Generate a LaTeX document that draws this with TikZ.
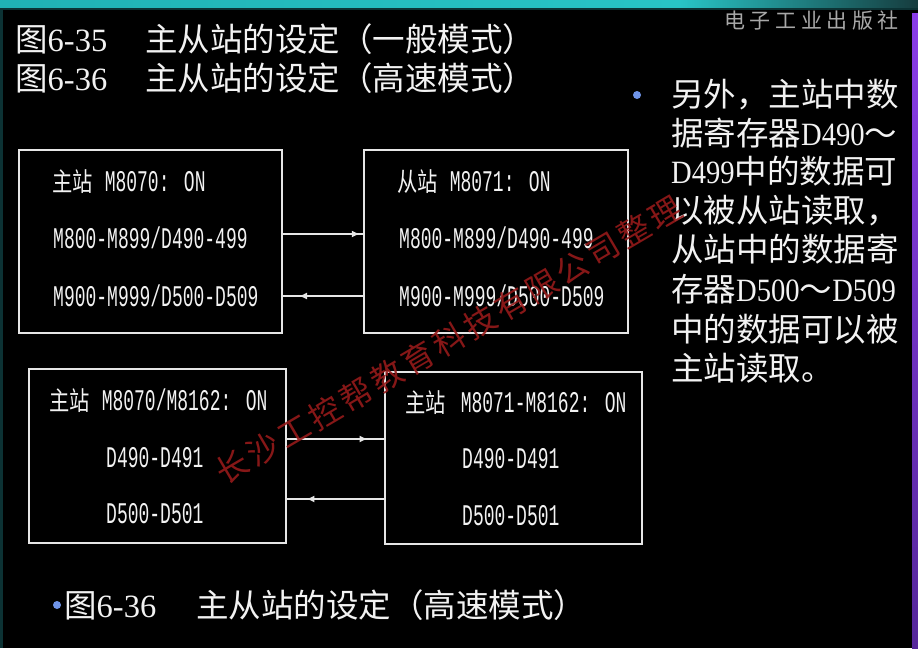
\documentclass[tikz,border=0pt]{standalone}
\usepackage{fontspec}
\setmainfont{Noto Sans CJK SC}
\newfontfamily\latin{Liberation Serif}
\newfontfamily\latinn[FakeStretch=0.88]{Liberation Serif}
\newfontfamily\plcmono[FakeStretch=0.6]{Liberation Mono}
\newfontfamily\plczh[FakeStretch=0.78]{Noto Sans CJK SC}
\newfontfamily\pubfont[LetterSpace=22]{Noto Sans CJK SC}
\newfontfamily\markfont[LetterSpace=12]{Noto Sans CJK SC}
\usetikzlibrary{arrows.meta,decorations.markings}

\definecolor{frame}{HTML}{E6E6E6}
\definecolor{ink}{HTML}{F2F2F2}
\definecolor{dot}{HTML}{6F94E8}
\definecolor{barA}{HTML}{28C4C6}
\definecolor{barB}{HTML}{20B2B5}
\definecolor{barC}{HTML}{163C3E}
\definecolor{edge}{HTML}{0C3234}
\definecolor{violetA}{HTML}{8A3DE8}
\definecolor{violetB}{HTML}{55279A}
\definecolor{stamp}{HTML}{A8A8A8}
\definecolor{seal}{HTML}{951A1A}

\newcommand\fs[1]{\fontsize{#1}{#1}\selectfont}

\tikzset{
  station/.style={draw=frame, line width=2pt, inner sep=0pt},
  link/.style={draw=frame, line width=2pt},
  headat/.style={postaction={decorate},
    decoration={markings, mark=at position #1 with {\arrow[frame]{Latex[length=8pt,width=7pt]}}}},
  plc/.style={anchor=base west, inner sep=0pt, text=ink, font=\plcmono\fs{30}},
  para/.style={anchor=base west, inner sep=0pt, text=ink, font=\fs{32.5}},
}

\begin{document}
\begin{tikzpicture}[x=1pt,y=-1pt]
\useasboundingbox (0,0) rectangle (918,648);
\fill[black] (0,0) rectangle (918,648);

% slide frame: teal band on top, violet band on the right
\shade[left color=barB, right color=barA] (0,0) rectangle (680,8);
\shade[left color=barA, right color=barC] (680,0) rectangle (918,8);
\fill[edge] (0,8) rectangle (918,9.5);
\fill[edge] (0,9.5) rectangle (3,648);
\shade[top color=violetA, bottom color=violetB] (912,13) rectangle (918,648);

% publisher mark
\node[anchor=west, inner sep=0pt, text=stamp, font=\pubfont\fs{21}] (pub) at (724,21) {电子工业出版社};

% titles
\node[para] (t1a) at (15,51) {图{\latin 6-35}};
\node[para] (t1b) at (145,51) {主从站的设定（一般模式）};
\node[para] (t2a) at (15,90) {图{\latin 6-36}};
\node[para] (t2b) at (145,90) {主从站的设定（高速模式）};

% general mode stations
\node[station, minimum width=263pt, minimum height=183pt] (m1) at (150.5,241.5) {};
\node[station, minimum width=264pt, minimum height=183pt] (s1) at (496,241.5) {};
\node[plc] (m1a) at (52,191) {{\plczh\fs{26}主站}\hspace{12pt}M8070: ON};
\node[plc] (m1b) at (53,248) {M800-M899/D490-499};
\node[plc] (m1c) at (53,306) {M900-M999/D500-D509};
\node[plc] (s1a) at (397,191) {{\plczh\fs{26}从站}\hspace{12pt}M8071: ON};
\node[plc] (s1b) at (399,248) {M800-M899/D490-499};
\node[plc] (s1c) at (399,306) {M900-M999/D500-D509};

\coordinate (g1) at ([yshift=7.5pt]m1.east);
\coordinate (g2) at ([yshift=-54.5pt]m1.east);
\draw[link, headat=0.96] (g1) -- (g1 -| s1.west);
\draw[link, headat=0.80] (g2 -| s1.west) -- (g2);

% high speed mode stations
\node[station, minimum width=257pt, minimum height=174pt] (m2) at (157.5,456) {};
\node[station, minimum width=257pt, minimum height=172pt] (s2) at (513.5,458) {};
\node[plc] (m2a) at (49,410) {{\plczh\fs{26}主站}\hspace{12pt}M8070/M8162: ON};
\node[plc] (m2b) at (106,467) {D490-D491};
\node[plc] (m2c) at (106,523) {D500-D501};
\node[plc] (s2a) at (405,412) {{\plczh\fs{26}主站}\hspace{15pt}M8071-M8162: ON};
\node[plc] (s2b) at (462,468) {D490-D491};
\node[plc] (s2c) at (462,525) {D500-D501};

\coordinate (h1) at ([yshift=17pt]m2.east);
\coordinate (h2) at ([yshift=-43pt]m2.east);
\draw[link, headat=0.83] (h1) -- (h1 -| s2.west);
\draw[link, headat=0.80] (h2 -| s2.west) -- (h2);

% note on the right
\fill[dot] (637,95) circle (4);
\node[para] (p1) at (671,106) {另外，主站中数};
\node[para] (p2) at (671,145) {据寄存器{\latinn D490}～};
\node[para] (p3) at (671,183) {{\latinn D499}中的数据可};
\node[para] (p4) at (671,222) {以被从站读取，};
\node[para] (p5) at (671,261) {从站中的数据寄};
\node[para] (p6) at (671,301) {存器{\latinn D500}～{\latinn D509}};
\node[para] (p7) at (671,341) {中的数据可以被};
\node[para] (p8) at (671,380) {主站读取。};

% caption
\fill[dot] (57,605) circle (4);
\node[para] (c1) at (64,617) {图{\latin 6-36}};
\node[para] (c2) at (196,617) {主从站的设定（高速模式）};

% diagonal seal text
\node[inner sep=0pt, text=seal, opacity=0.9, rotate=30.4, font=\markfont\fs{32}] (seal) at (449,340) {长沙工控帮教育科技有限公司整理};
\end{tikzpicture}
\end{document}
